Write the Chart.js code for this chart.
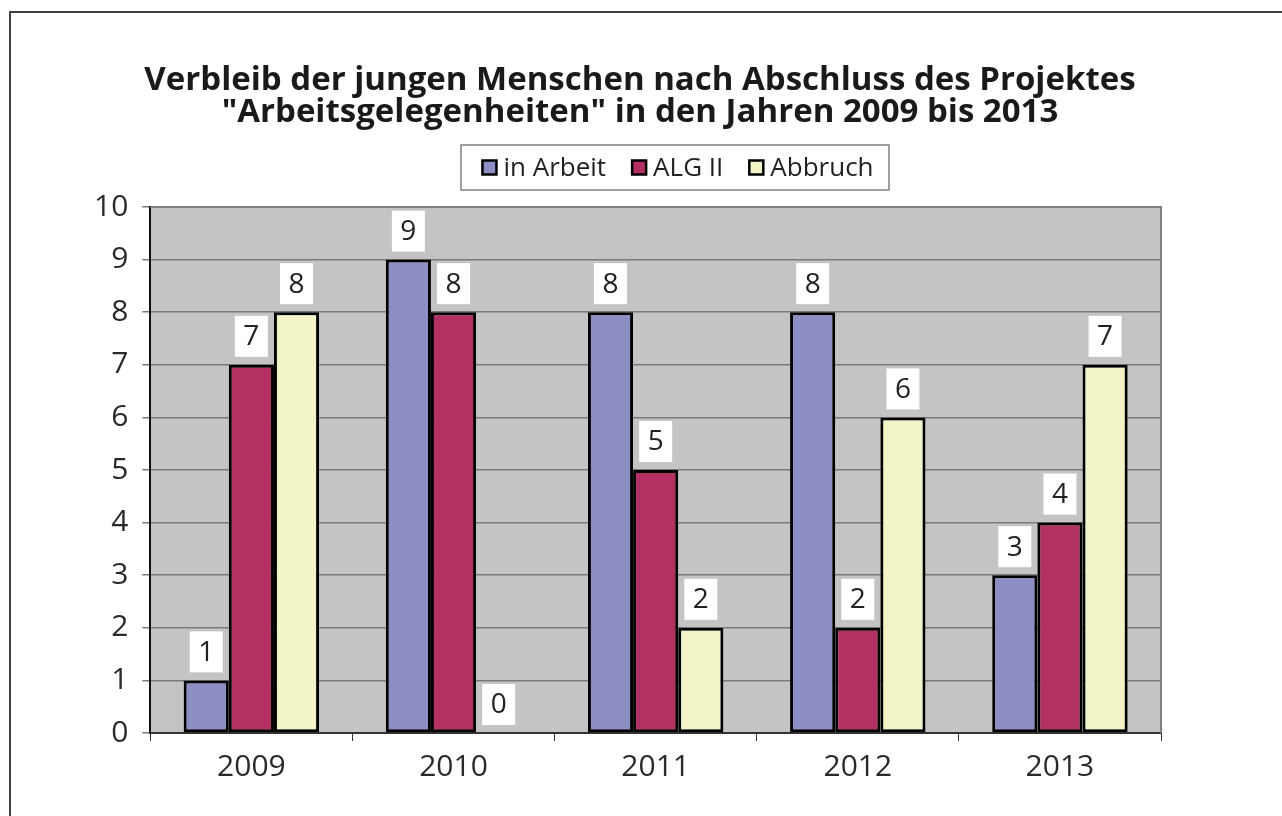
<!DOCTYPE html>
<html>
<head>
<meta charset="utf-8">
<script src="https://cdn.jsdelivr.net/npm/chart.js@4"></script>
<style>
  html, body { margin: 0; padding: 0; background: #fff; }
  #wrap { width: 1282px; height: 816px; }
</style>
</head>
<body>
<div id="wrap"><canvas id="chart" width="1282" height="816"></canvas></div>
<script>
const years = ["2009", "2010", "2011", "2012", "2013"];
const inArbeit = [1, 9, 8, 8, 3];
const algII = [7, 8, 5, 2, 4];
const abbruch = [8, 0, 2, 6, 7];
const seriesNames = ["in Arbeit", "ALG II", "Abbruch"];
const seriesColors = ["#8c8ec4", "#b23062", "#f3f3c8"];
const titleLines = [
  "Verbleib der jungen Menschen nach Abschluss des Projektes",
  "\"Arbeitsgelegenheiten\" in den Jahren 2009 bis 2013"
];

const FONT = "'Open Sans', 'Noto Sans', sans-serif";

// gray plot background, top/right border, outer frame
const framePlugin = {
  id: "frame",
  beforeDraw(chart) {
    const { ctx, chartArea: a } = chart;
    ctx.save();
    ctx.fillStyle = "#c4c4c4";
    ctx.fillRect(a.left, a.top, a.right - a.left, a.bottom - a.top);
    ctx.restore();
  },
  afterDraw(chart) {
    const { ctx, chartArea: a } = chart;
    ctx.save();
    ctx.strokeStyle = "#808080";
    ctx.lineWidth = 2;
    ctx.beginPath();
    ctx.moveTo(a.left, a.top);
    ctx.lineTo(a.right, a.top);
    ctx.lineTo(a.right, a.bottom);
    ctx.stroke();

    // outer frame (only top and left are in view)
    ctx.strokeStyle = "#404040";
    ctx.beginPath();
    ctx.moveTo(10, 900);
    ctx.lineTo(10, 12);
    ctx.lineTo(1400, 12);
    ctx.stroke();

    // title, centred on the page
    ctx.fillStyle = "#1a1a1a";
    ctx.font = "bold 33px " + FONT;
    ctx.textAlign = "center";
    ctx.textBaseline = "middle";
    titleLines.forEach((t, i) => ctx.fillText(t, 640, 81 + i * 32));
    ctx.restore();
  }
};

// legend drawn by hand in the gap between title and plot
const boxLegend = {
  id: "boxLegend",
  afterDraw(chart) {
    const { ctx } = chart;
    ctx.save();
    ctx.font = "26px " + FONT;
    ctx.textBaseline = "middle";
    const gap = 7, sq = 14, spacing = 26;
    const widths = seriesNames.map(n => sq + gap + ctx.measureText(n).width);
    const total = widths.reduce((s, w) => s + w, 0) + spacing * (widths.length - 1);
    const top = 145, h = 45;
    const left = 461;
    const boxW = 428;
    ctx.fillStyle = "#fff";
    ctx.fillRect(left, top, boxW, h);
    ctx.strokeStyle = "#808080";
    ctx.lineWidth = 1.5;
    ctx.strokeRect(left, top, boxW, h);
    let x = left + (boxW - total) / 2 + 3;
    const y = top + h / 2;
    seriesNames.forEach((n, i) => {
      ctx.fillStyle = seriesColors[i];
      ctx.fillRect(x, y - sq / 2, sq, sq);
      ctx.strokeStyle = "#000";
      ctx.lineWidth = 2.5;
      ctx.strokeRect(x, y - sq / 2, sq, sq);
      ctx.fillStyle = "#222";
      ctx.fillText(n, x + sq + gap, y + 1);
      x += widths[i] + spacing;
    });
    ctx.restore();
  }
};

// white boxes with values above each bar
const labelPlugin = {
  id: "valueLabels",
  afterDatasetsDraw(chart) {
    const { ctx } = chart;
    ctx.save();
    ctx.font = "28px " + FONT;
    ctx.textAlign = "center";
    ctx.textBaseline = "middle";
    chart.data.datasets.forEach((ds, i) => {
      chart.getDatasetMeta(i).data.forEach((bar, j) => {
        const w = 33, h = 41;
        const x = bar.x, y = bar.y - 8 - h / 2;
        ctx.fillStyle = "#fff";
        ctx.fillRect(x - w / 2, y - h / 2, w, h);
        ctx.fillStyle = "#222";
        ctx.fillText(String(ds.data[j]), x, y + 1);
      });
    });
    ctx.restore();
  }
};

new Chart(document.getElementById("chart"), {
  type: "bar",
  data: {
    labels: years,
    datasets: [inArbeit, algII, abbruch].map((vals, i) => ({
      label: seriesNames[i],
      data: vals,
      backgroundColor: seriesColors[i],
      borderColor: "#000",
      borderWidth: 3,
      borderSkipped: false,
      barPercentage: 1,
      categoryPercentage: 0.67
    }))
  },
  options: {
    responsive: false,
    animation: false,
    layout: { padding: { left: 80, right: 121, top: 207, bottom: 23 } },
    plugins: {
      title: { display: false },
      legend: { display: false },
      tooltip: { enabled: false }
    },
    scales: {
      x: {
        grid: {
          drawOnChartArea: false,
          drawTicks: true,
          tickLength: 8,
          color: "#333",
          offset: true
        },
        border: { color: "#333", width: 2 },
        ticks: { color: "#2a2a2a", font: { family: FONT, size: 30 }, padding: 8 }
      },
      y: {
        min: 0,
        max: 10,
        ticks: { stepSize: 1, color: "#2a2a2a", font: { family: FONT, size: 30 }, padding: 14 },
        grid: { color: "#7a7a7a", lineWidth: 1.5, tickLength: 8 },
        border: { color: "#111", width: 2 }
      }
    }
  },
  plugins: [framePlugin, boxLegend, labelPlugin]
});
</script>
</body>
</html>
